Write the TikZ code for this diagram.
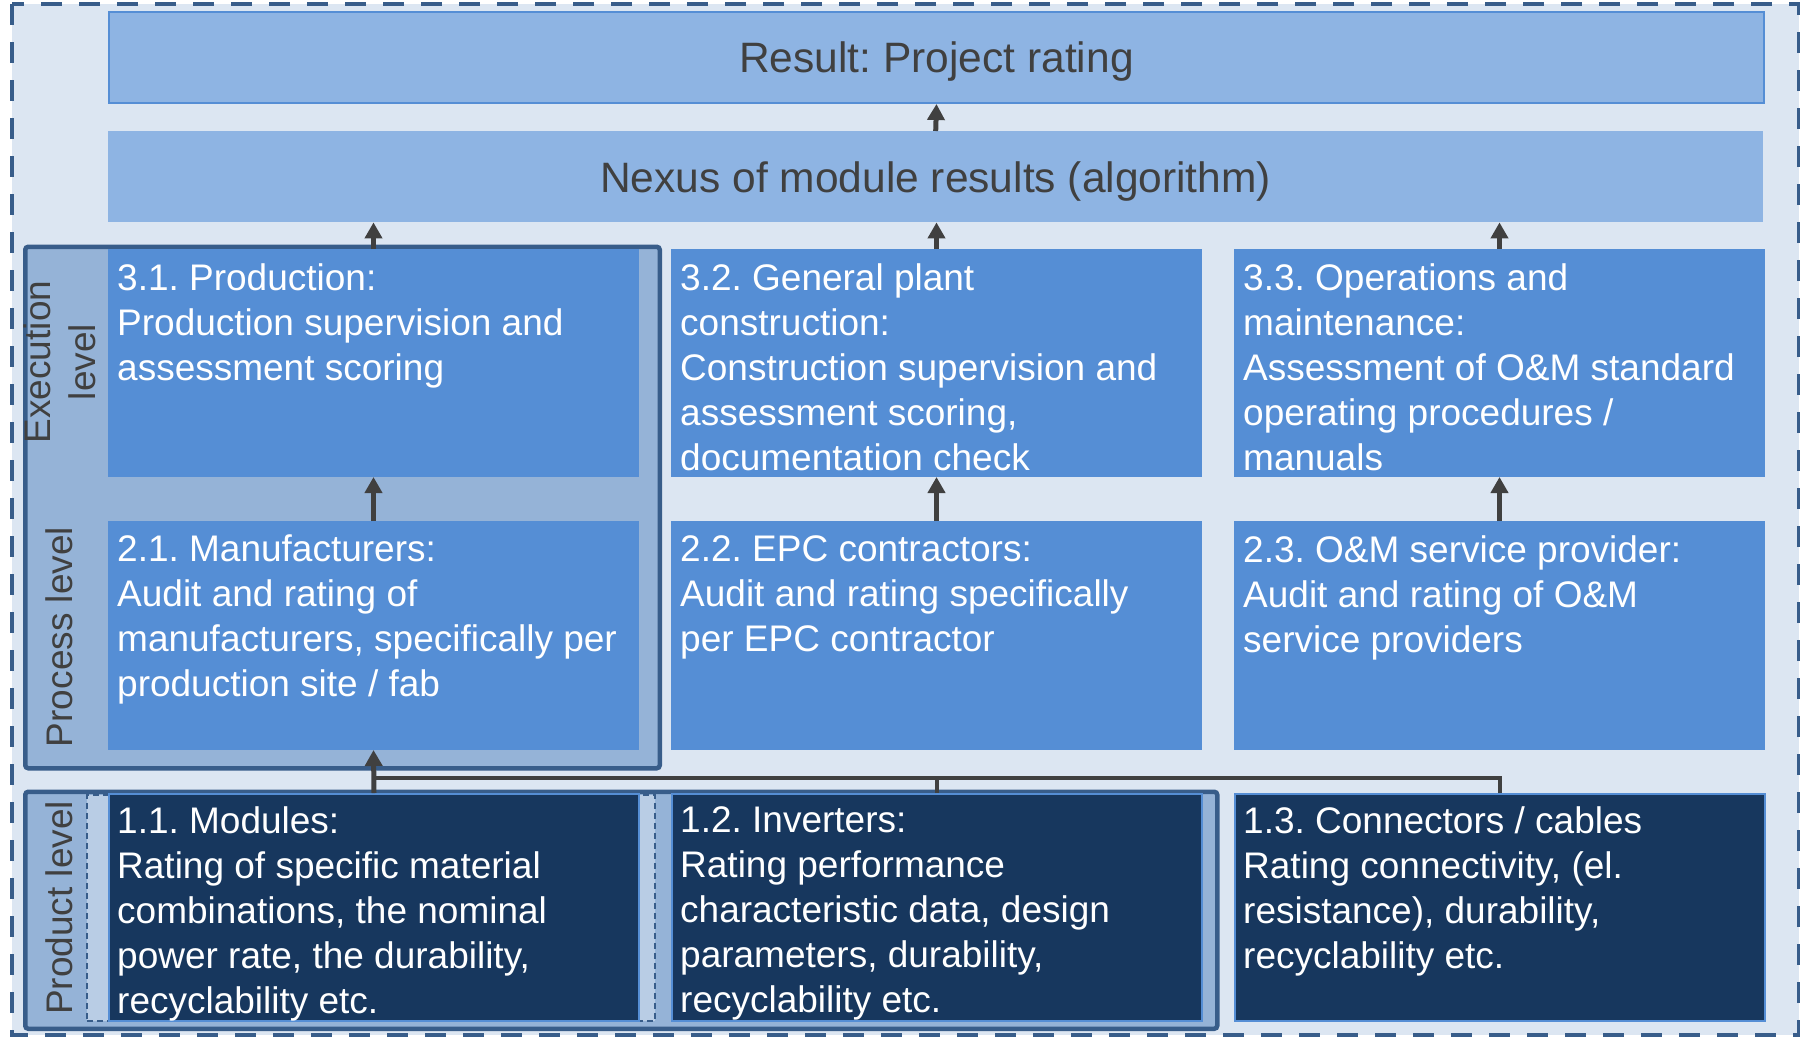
\documentclass[tikz,border=0pt]{standalone}
\usepackage{fontspec}
\setmainfont{Liberation Sans}
\usetikzlibrary{arrows.meta}
\definecolor{bgc}{HTML}{DCE6F2}
\definecolor{lightc}{HTML}{8EB4E3}
\definecolor{midc}{HTML}{558ED5}
\definecolor{framec}{HTML}{95B3D7}
\definecolor{framel}{HTML}{385D8A}
\definecolor{darkc}{HTML}{17375E}
\definecolor{stripc}{HTML}{B9CDE5}
\definecolor{inkc}{HTML}{404040}
\frenchspacing
\begin{document}
\frenchspacing
\begin{tikzpicture}[x=1pt,y=-1pt,
  topbox/.style={fill=lightc, anchor=north west, inner sep=0pt, minimum width=1655pt, minimum height=91pt,
    text=inkc, text depth=0pt, font=\fontsize{42.5}{50}\selectfont},
  midbox/.style={fill=midc, draw=midc, line width=1pt, anchor=north west, inner sep=0pt, minimum width=530pt, minimum height=227pt},
  darkbox/.style={fill=darkc, draw=midc, line width=2pt, anchor=north west, inner sep=0pt, minimum width=530pt, minimum height=227pt},
  txt/.style={anchor=north west, inner sep=0pt, align=left, text=white, font=\fontsize{37}{45}\selectfont},
  lvl/.style={inner sep=0pt, text=inkc, rotate=90, font=\fontsize{37}{45}\selectfont},
  framebox/.style={fill=framec, draw=framel, line width=4.5pt, rounded corners=3pt, anchor=north west, inner sep=0pt},
  arr/.style={draw=inkc, line width=5pt, -{Triangle[width=17pt,length=16pt]}},
  bus/.style={draw=inkc, line width=4.8pt}
]
\useasboundingbox (0,0) rectangle (1800,1037);
\fill[white] (0,0) rectangle (1800,1037);
% outer dashed background
\draw[fill=bgc, draw=framel, line width=4.5pt, dash pattern=on 21pt off 17pt] (12,4) rectangle (1799,1035);

% level frames
\node[framebox, minimum width=634.5pt, minimum height=521.5pt] (execframe) at (23,244.5) {};
\node[framebox, minimum width=1192pt, minimum height=237pt] (prodframe) at (23,789.5) {};
\node[fill=stripc, draw=framel, line width=1.5pt, dash pattern=on 6pt off 4pt, anchor=north west, inner sep=0pt,
  minimum width=568pt, minimum height=226pt] (strip) at (86,794) {};

% top boxes
\node[topbox, draw=midc, line width=2pt] (result) at (108,11) {Result: Project rating};
\node[topbox] (nexus) at (108,131) {Nexus of module results (algorithm)};

% level 3
\node[midbox] (b31) at (108,249) {};
\node[midbox] (b32) at (671,249) {};
\node[midbox] (b33) at (1234,249) {};
% level 2
\node[midbox, minimum height=228pt] (b21) at (108,521) {};
\node[midbox, minimum height=228pt] (b22) at (671,521) {};
\node[midbox, minimum height=228pt] (b23) at (1234,521) {};
% level 1
\node[darkbox] (b11) at (108,793) {};
\node[darkbox] (b12) at (671,793) {};
\node[darkbox] (b13) at (1234,793) {};

% texts
\node[txt] (t31) at ([shift={(9,14)}]b31.north west) {3.1. Production:\\Production supervision and\\assessment scoring};
\node[txt] (t32) at ([shift={(9,14)}]b32.north west) {3.2. General plant\\construction:\\Construction supervision and\\assessment scoring,\\documentation check};
\node[txt] (t33) at ([shift={(9,14)}]b33.north west) {3.3. Operations and\\maintenance:\\Assessment of O\&M standard\\operating procedures /\\manuals};
\node[txt] (t21) at ([shift={(9,14)}]b21.north west) {2.1. Manufacturers:\\Audit and rating of\\manufacturers, specifically per\\production site / fab};
\node[txt] (t22) at ([shift={(9,14)}]b22.north west) {2.2. EPC contractors:\\Audit and rating specifically\\per EPC contractor};
\node[txt] (t23) at ([shift={(9,14)}]b23.north west) {2.3. O\&M service provider:\\Audit and rating of O\&M\\service providers};
\node[txt] (t11) at ([shift={(9,13)}]b11.north west) {1.1. Modules:\\Rating of specific material\\combinations, the nominal\\power rate, the durability,\\recyclability etc.};
\node[txt] (t12) at ([shift={(9,13)}]b12.north west) {1.2. Inverters:\\Rating performance\\characteristic data, design\\parameters, durability,\\recyclability etc.};
\node[txt] (t13) at ([shift={(9,13)}]b13.north west) {1.3. Connectors / cables\\Rating connectivity, (el.\\resistance), durability,\\recyclability etc.};

% level labels
\node[lvl, align=center] (lexec) at (60,362) {Execution\\level};
\node[lvl, anchor=base] (lproc) at (72,637) {Process level};
\node[lvl, anchor=base] (lprod) at (72,908) {Product level};

% connectors
\coordinate (busl) at (373,778);
\draw[bus] (b13.north) |- (busl);
\draw[bus] (b12.north) -- (b12.north |- busl);
\draw[arr] (b11.north) -- (b21.south);
\draw[arr] (b21.north) -- (b31.south);
\draw[arr] (b22.north) -- (b32.south);
\draw[arr] (b23.north) -- (b33.south);
\draw[arr] (b31.north) -- (b31.north |- nexus.south);
\draw[arr] (b32.north) -- (b32.north |- nexus.south);
\draw[arr] (b33.north) -- (b33.north |- nexus.south);
\draw[arr] (nexus.north) -- (result.south);
\end{tikzpicture}
\end{document}
